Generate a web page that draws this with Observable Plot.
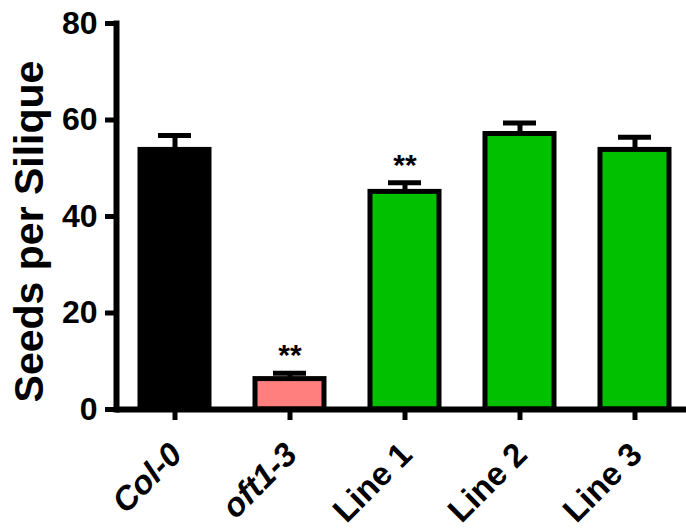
<!DOCTYPE html>
<html><head><meta charset="utf-8">
<script src="https://cdn.jsdelivr.net/npm/d3@7"></script>
<script src="https://cdn.jsdelivr.net/npm/@observablehq/plot@0.6"></script>
<style>html,body{margin:0;padding:0;background:#fff}</style>
</head><body><div id="chart"></div>
<script>
const categories = ["Col-0", "oft1-3", "Line 1", "Line 2", "Line 3"];
const means = [53.8, 6.3, 45.1, 57.1, 53.8];
const errors = [3.0, 1.2, 1.9, 2.3, 2.6];
const significance = ["", "**", "**", "", ""];
const colors = ["#000000", "#ff7f7f", "#00c000", "#00c000", "#00c000"];
const italicCategories = ["Col-0", "oft1-3"];
const yTicks = [0, 20, 40, 60, 80];
const yLabel = "Seeds per Silique";

const data = categories.map((c, i) => ({category: c, mean: means[i], err: errors[i], sig: significance[i], color: colors[i]}));

const font = "'Liberation Sans', Arial, Helvetica, sans-serif";
const chart = Plot.plot({
  width: 686,
  height: 529,
  marginTop: 23,
  marginBottom: 120,
  marginLeft: 116,
  marginRight: 0,
  style: {fontFamily: font, fontWeight: "bold", background: "#fff", color: "#000"},
  x: {domain: categories, range: [116, 693.5], paddingInner: 0.4, paddingOuter: 0.2, label: null},
  y: {domain: [0, 80], label: null},
  color: {type: "identity"},
  marks: [
    Plot.ruleX(data, {x: "category", y1: "mean", y2: d => d.mean + d.err, stroke: "#000", strokeWidth: 5}),
    Plot.tickY(data, {x: "category", y: d => d.mean + d.err, stroke: "#000", strokeWidth: 5, inset: 18}),
    Plot.barY(data, {x: "category", y: "mean", fill: "color", stroke: "#000", strokeWidth: 5}),
    Plot.text(data.filter(d => d.sig), {x: "category", y: d => d.mean + d.err, text: "sig", lineAnchor: "bottom", dy: -8, fontSize: 30, fill: "#000"}),
    Plot.ruleY([0], {stroke: "#000", strokeWidth: 6}),
    Plot.frame({anchor: "left", stroke: "#000", strokeWidth: 6}),
    Plot.axisY({ticks: yTicks, tickSize: 11, tickPadding: 8, strokeWidth: 5, fontSize: 32, label: null}),
    Plot.axisX({tickSize: 11, strokeWidth: 5, tickFormat: () => "", label: null}),
    Plot.text(categories.filter(c => italicCategories.includes(c)), {x: d => d, frameAnchor: "bottom", rotate: -45, textAnchor: "end", lineAnchor: "bottom", dx: 9, dy: 47, fontSize: 33, fontStyle: "italic", fill: "#000"}),
    Plot.text(categories.filter(c => !italicCategories.includes(c)), {x: d => d, frameAnchor: "bottom", rotate: -45, textAnchor: "end", lineAnchor: "bottom", dx: 9, dy: 47, fontSize: 33, fill: "#000"}),
    Plot.text([yLabel], {frameAnchor: "left", rotate: -90, textAnchor: "middle", lineAnchor: "middle", dx: -87, dy: 15, fontSize: 41, fill: "#000"})
  ]
});
document.getElementById("chart").appendChild(chart);
</script>
</body></html>
